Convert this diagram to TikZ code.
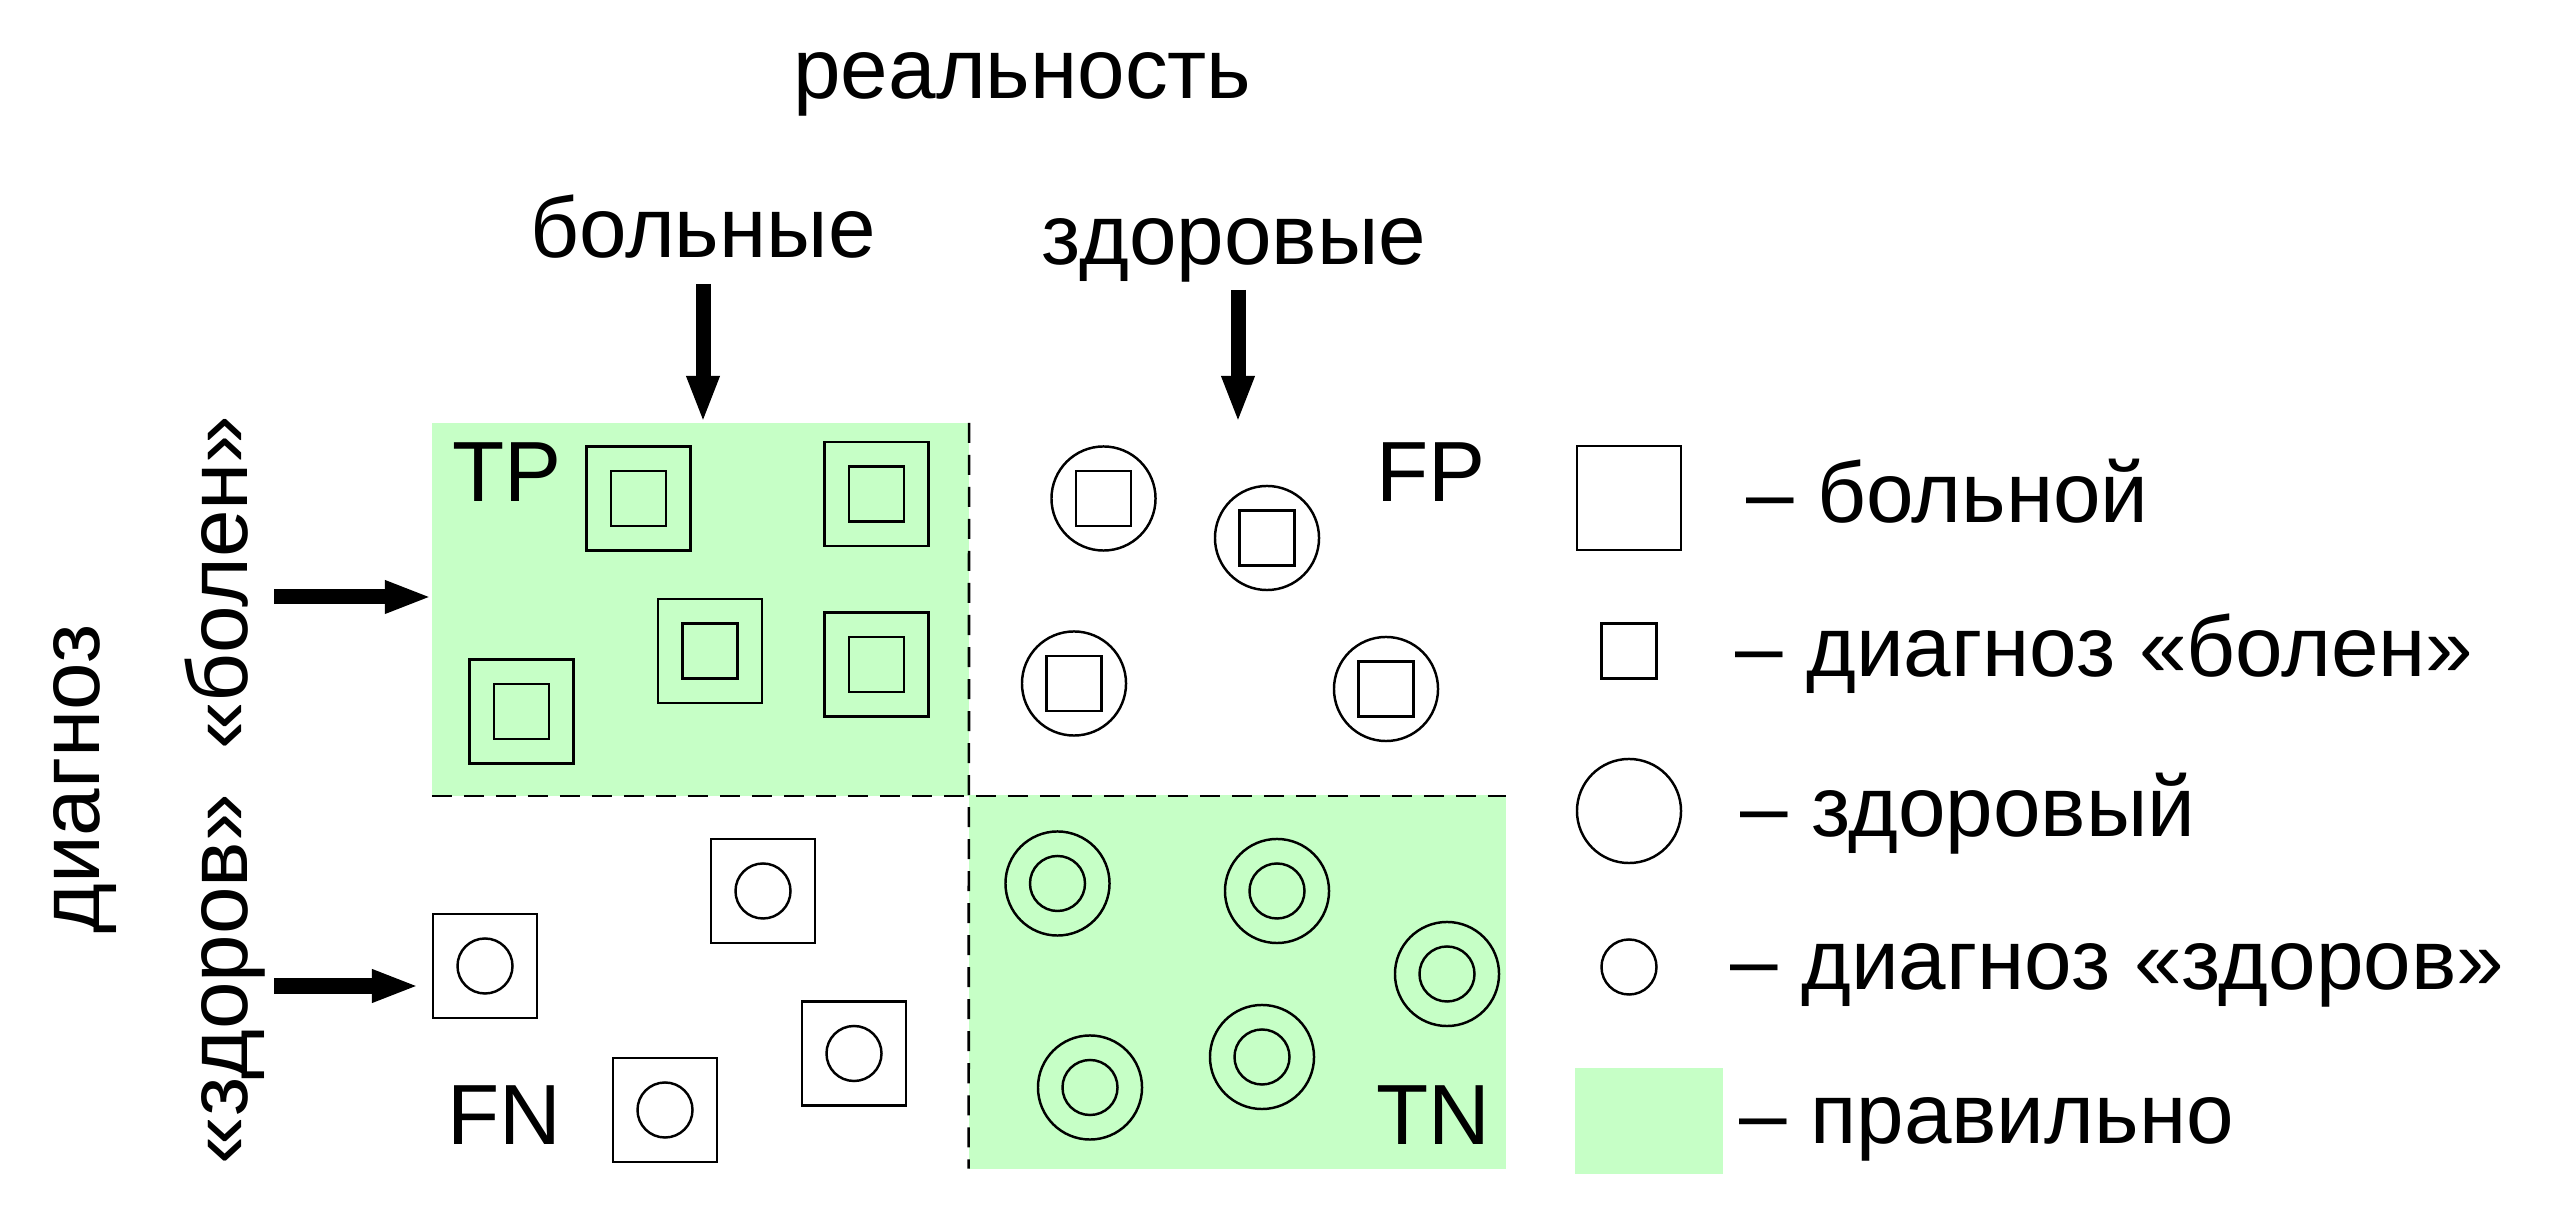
\documentclass[tikz,border=0pt]{standalone}
\usepackage{fontspec}
\setmainfont{Liberation Sans}
\usetikzlibrary{arrows.meta}
\definecolor{correct}{RGB}{198,255,198}

\begin{document}
\begin{tikzpicture}[x=0.01cm, y=-0.01cm,
    every node/.style={inner sep=0pt, outer sep=0pt, font=\fontsize{24.3}{29}\selectfont},
    region/.style={rectangle, minimum width=5.37cm, minimum height=3.73cm},
    ill/.style={rectangle, draw, line width=0.7pt, minimum size=1.04cm},
    healthy/.style={circle, draw, line width=0.7pt, minimum size=1.04cm},
    saysill/.style={rectangle, draw, line width=0.7pt, minimum size=0.55cm},
    sayshealthy/.style={circle, draw, line width=0.7pt, minimum size=0.55cm},
    divider/.style={line width=0.75pt, dash pattern=on 0.2cm off 0.12cm},
    bigarrow/.style={line width=0.15cm, -{Triangle[length=0.47cm, width=0.30cm]}}]
        \useasboundingbox (0,0) rectangle (2551,1207);
        \node[region, fill=correct] (tp) at (700.5,609.5) {};
        \node[region] (fp) at (1237.25,609.5) {};
        \node[region] (fn) at (700.5,982) {};
        \node[region, fill=correct] (tn) at (1237.25,982) {};
        \draw[divider] (tp.south west) -- (fp.south east);
        \draw[divider] (tp.north east) -- (tn.south west);

        \node[ill] (tp1) at (638.5,498.5) {};   \node[saysill] (tp1d) at (tp1) {};
        \node[ill] (tp2) at (876.5,494) {};     \node[saysill] (tp2d) at (tp2) {};
        \node[ill] (tp3) at (710,651) {};       \node[saysill] (tp3d) at (tp3) {};
        \node[ill] (tp4) at (876.5,664.5) {};   \node[saysill] (tp4d) at (tp4) {};
        \node[ill] (tp5) at (521.5,711.5) {};   \node[saysill] (tp5d) at (tp5) {};

        \node[healthy] (fp1) at (1103.5,498.5) {}; \node[saysill] (fp1d) at (fp1) {};
        \node[healthy] (fp2) at (1267,538) {};     \node[saysill] (fp2d) at (fp2) {};
        \node[healthy] (fp3) at (1074,683.5) {};   \node[saysill] (fp3d) at (fp3) {};
        \node[healthy] (fp4) at (1386,689) {};     \node[saysill] (fp4d) at (fp4) {};

        \node[ill] (fn1) at (763,891) {};      \node[sayshealthy] (fn1d) at (fn1) {};
        \node[ill] (fn2) at (485,966) {};      \node[sayshealthy] (fn2d) at (fn2) {};
        \node[ill] (fn3) at (854,1053.5) {};   \node[sayshealthy] (fn3d) at (fn3) {};
        \node[ill] (fn4) at (665,1110) {};     \node[sayshealthy] (fn4d) at (fn4) {};

        \node[healthy] (tn1) at (1057.5,883.5) {}; \node[sayshealthy] (tn1d) at (tn1) {};
        \node[healthy] (tn2) at (1277,891) {};     \node[sayshealthy] (tn2d) at (tn2) {};
        \node[healthy] (tn3) at (1447,974) {};     \node[sayshealthy] (tn3d) at (tn3) {};
        \node[healthy] (tn4) at (1090,1087.5) {};  \node[sayshealthy] (tn4d) at (tn4) {};
        \node[healthy] (tn5) at (1262,1057) {};    \node[sayshealthy] (tn5d) at (tn5) {};

        \node[anchor=base west] (tplabel) at (452,502) {TP};
        \node[anchor=base west] (fplabel) at (1376,502) {FP};
        \node[anchor=base west] (fnlabel) at (447,1144) {FN};
        \node[anchor=base west] (tnlabel) at (1376,1144) {TN};

        \node[anchor=base] (reality) at (1022.5,99) {реальность};
        \node[anchor=base] (sick) at (703,258) {больные};
        \node[anchor=base] (well) at (1234,265) {здоровые};
        \node[anchor=base, rotate=90] (diagnosis) at (100,779) {диагноз};
        \node[anchor=base, rotate=90] (verdict) at (247,790) {«здоров»\hspace{0.52em}«болен»};

        \coordinate (realsick) at (703,284);
        \coordinate (realwell) at (1238,290);
        \coordinate (diagsick) at (274,597);
        \coordinate (diagwell) at (274,986);
        \draw[bigarrow] (realsick) -- (realsick |- tp.north);
        \draw[bigarrow] (realwell) -- (realwell |- fp.north);
        \draw[bigarrow] (diagsick) -- (diagsick -| tp.west);
        \draw[bigarrow, shorten >=0.14cm] (diagwell) -- (diagwell -| fn2.west);

        \node[ill] (keyill) at (1629,498) {};
        \node[saysill] (keysaysill) at (1629,651) {};
        \node[healthy] (keyhealthy) at (1629,811) {};
        \node[sayshealthy] (keysayshealthy) at (1629,967) {};
        \node[rectangle, fill=correct, minimum width=1.475cm, minimum height=1.06cm] (keycorrect) at (1649,1121) {};
        \node[anchor=base west] (keyilltext) at (1746,523) {– больной};
        \node[anchor=base west] (keysaysilltext) at (1735,677) {– диагноз «болен»};
        \node[anchor=base west] (keyhealthytext) at (1740,837) {– здоровый};
        \node[anchor=base west] (keysayshealthytext) at (1730,990) {– диагноз «здоров»};
        \node[anchor=base west] (keycorrecttext) at (1739,1143) {– правильно};
      \end{tikzpicture}
\end{document}
